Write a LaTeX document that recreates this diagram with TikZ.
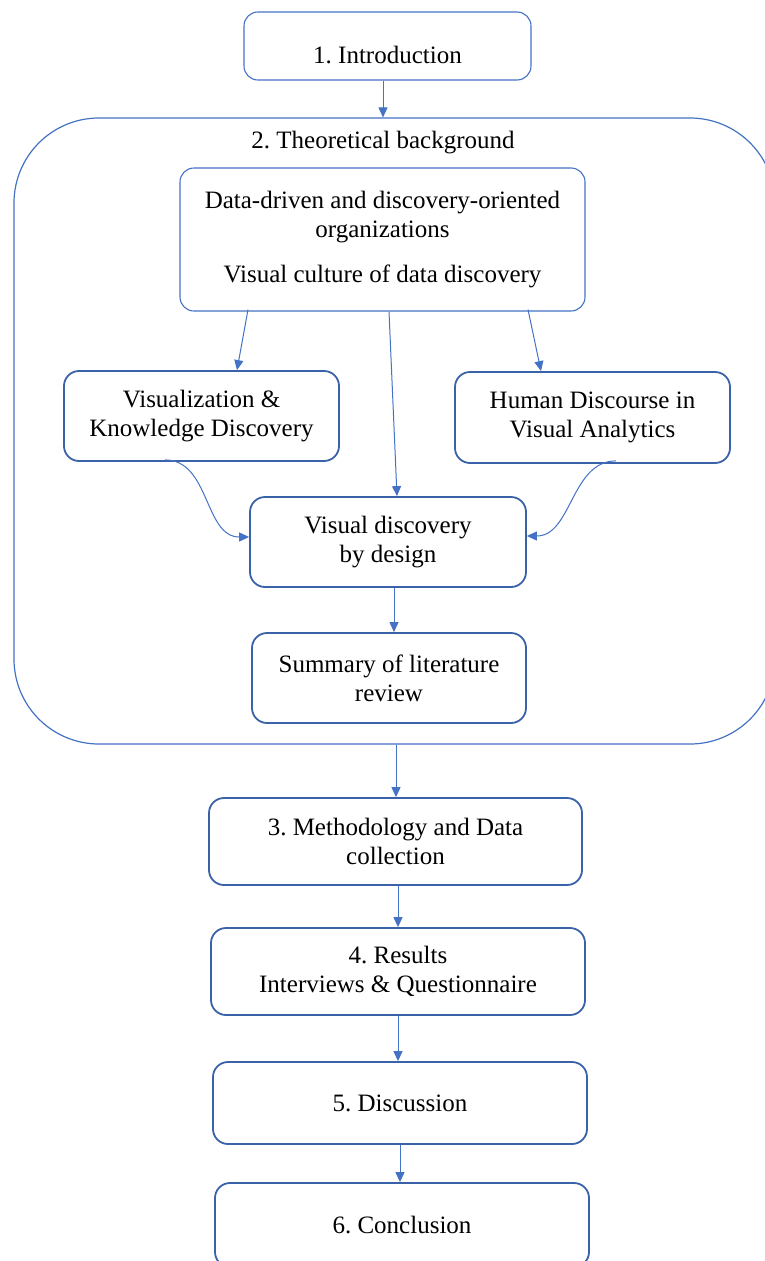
\documentclass[tikz,border=0pt]{standalone}
\usepackage{fontspec}
\setmainfont{Liberation Serif}
\newfontfamily\tms{Liberation Serif}
\usetikzlibrary{arrows.meta,calc}
\definecolor{lightln}{HTML}{4472C4}
\definecolor{darkln}{HTML}{3A62A8}
\frenchspacing
\begin{document}
\begin{tikzpicture}[x=1pt,y=-1pt,
  lbox/.style={draw=lightln,line width=1.1pt,rounded corners=14pt,align=center,
    font=\tms\fontsize{25}{29}\selectfont,inner sep=0pt},
  dbox/.style={draw=darkln,line width=1.8pt,rounded corners=15pt,align=center,
    font=\tms\fontsize{25}{29}\selectfont,inner sep=0pt},
  conn/.style={draw=lightln,line width=1pt,-{Triangle[length=10pt,width=9pt]}},
]
\useasboundingbox (0,0) rectangle (765,1261);
\clip (0,0) rectangle (765,1261);
\fill[white] (0,0) rectangle (765,1261);

% big container
\node[draw=lightln,line width=1.2pt,rounded corners=85pt,minimum width=761pt,minimum height=626pt,inner sep=0pt] (bg) at (394.5,431) {};
\node[font=\tms\fontsize{25}{29}\selectfont] (bgt) at (383,143) {2. Theoretical background};

\node[lbox,minimum width=287pt,minimum height=68pt] (intro) at (387.5,46)
  {\raisebox{-11pt}[0.7em][0.2em]{1. Introduction}};

\node[lbox,minimum width=405pt,minimum height=143pt] (data) at (382.5,239.5)
  {Data-driven and discovery-oriented\\organizations\\[16pt]Visual culture of data discovery};

\node[dbox,minimum width=275pt,minimum height=90pt] (viz) at (201.5,416)
  {Visualization \&\\Knowledge Discovery};
\node[dbox,minimum width=275pt,minimum height=91pt] (hum) at (592.5,417.5)
  {Human Discourse in\\Visual Analytics};
\node[dbox,minimum width=276pt,minimum height=90pt] (vd) at (388,542)
  {Visual discovery\\by design};
\node[dbox,minimum width=274pt,minimum height=90pt] (sum) at (389,678)
  {Summary of literature\\review};

\node[dbox,minimum width=373pt,minimum height=87pt] (meth) at (395.5,841.5)
  {3. Methodology and Data\\collection};
\node[dbox,minimum width=374pt,minimum height=87pt] (res) at (398,971.5)
  {4. Results\\Interviews \& Questionnaire};
\node[dbox,minimum width=374pt,minimum height=82pt] (disc) at (400,1103)
  {5. Discussion};
\node[dbox,minimum width=374pt,minimum height=84pt] (conc) at (402,1225)
  {6. Conclusion};

% connectors
\draw[conn] (intro.south -| 383,0) -- (bg.north -| 383,0);
\draw[conn] ([xshift=-134.5pt,yshift=2pt]data.south) -- ([xshift=35.5pt]viz.north);
\draw[conn] ([xshift=6.5pt]data.south) -- ([xshift=9pt]vd.north);
\draw[conn] ([xshift=145.5pt,yshift=2pt]data.south) -- ([xshift=-51.5pt]hum.north);

\coordinate (va) at ([xshift=-36.5pt,yshift=2pt]viz.south);
\coordinate (vb) at ([yshift=5pt]vd.west);
\draw[conn] (va) .. controls ($(va)+(45,0)$) and ($(vb)+(-45,0)$) .. (vb);
\coordinate (ha) at ([xshift=23.5pt,yshift=3pt]hum.south);
\coordinate (hb) at ([yshift=6pt]vd.east);
\draw[conn] (ha) .. controls ($(ha)+(-45,0)$) and ($(hb)+(45,0)$) .. (hb);

\draw[conn] (vd.south -| 394,0) -- (sum.north -| 394,0);
\draw[conn] (bg.south -| 396,0) -- (meth.north -| 396,0);
\draw[conn] (meth.south -| 398,0) -- (res.north -| 398,0);
\draw[conn] (res.south -| 398,0) -- (disc.north -| 398,0);
\draw[conn] (disc.south -| 400,0) -- (conc.north -| 400,0);
\end{tikzpicture}
\end{document}
